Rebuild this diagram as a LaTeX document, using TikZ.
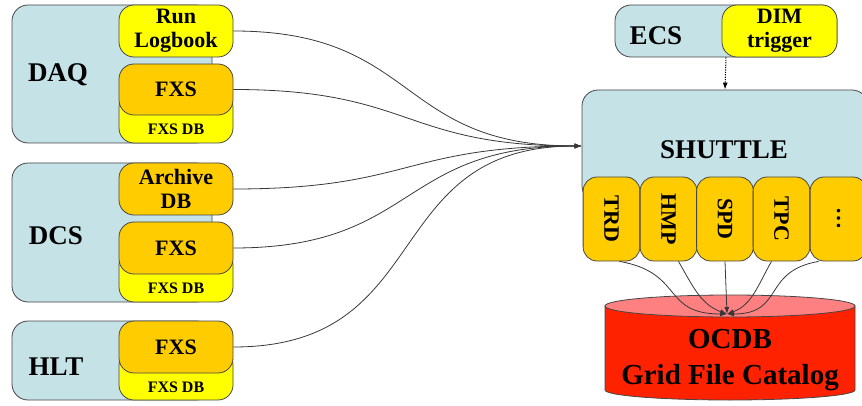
\documentclass[tikz,border=0pt]{standalone}
\usepackage{fontspec}
\setmainfont{Liberation Serif}
\usepackage{tikz}
\usetikzlibrary{arrows,arrows.meta}
\definecolor{sysblue}{RGB}{197,226,231}
\definecolor{dbyellow}{RGB}{255,255,0}
\definecolor{fxsorange}{RGB}{255,204,0}
\definecolor{ocdbred}{RGB}{255,34,0}
\definecolor{ocdbpink}{RGB}{255,128,128}
\definecolor{edgegray}{RGB}{70,70,70}
\newcommand{\bigfont}{\bfseries\fontsize{27}{30}\selectfont}
\newcommand{\midfont}{\bfseries\fontsize{22}{24}\selectfont}
\newcommand{\smallfont}{\bfseries\fontsize{16}{16}\selectfont}
\tikzset{
	sysnode/.style={rectangle, rounded corners=16pt, draw=edgegray, fill=sysblue, line width=0.8pt, inner sep=0pt},
	yellownode/.style={rectangle, rounded corners=15pt, draw=edgegray, fill=dbyellow, line width=0.8pt, inner sep=0pt, minimum width=114pt, align=center, font=\midfont},
	orangenode/.style={rectangle, rounded corners=15pt, draw=edgegray, fill=fxsorange, line width=0.8pt, inner sep=0pt, minimum width=114pt, align=center, font=\midfont},
	detnode/.style={rectangle, rounded corners=14pt, draw=edgegray, fill=fxsorange, line width=0.8pt, inner sep=0pt, minimum width=84pt, minimum height=56.75pt, rotate=-90, font=\midfont},
	feed/.style={draw=edgegray!80!black, line width=0.8pt, -{Latex[length=7pt,width=5pt]}}
}
\begin{document}
\begin{tikzpicture}[x=1pt, y=-1pt]
	\clip (0,0) rectangle (862,406);
	% DAQ
	\node[sysnode, minimum width=200pt, minimum height=138pt] (daq) at (112,74) {};
	\node[font=\bigfont] (daqlabel) at (58,75) {DAQ};
	\node[yellownode, minimum height=52pt] (runlog) at (176,31) {Run\\Logbook};
	\node[yellownode, minimum height=51pt] (daqdb) at (176,117.5) {};
	\node[font=\smallfont] (daqdblabel) at (176,129) {FXS DB};
	\node[orangenode, minimum height=51pt] (daqfxs) at (176,89.5) {FXS};
	% DCS
	\node[sysnode, minimum width=200pt, minimum height=139pt] (dcs) at (112,232.5) {};
	\node[font=\bigfont] (dcslabel) at (56,236) {DCS};
	\node[orangenode, minimum height=52pt] (archive) at (176,189) {Archive\\DB};
	\node[yellownode, minimum height=52pt] (dcsdb) at (176,276) {};
	\node[font=\smallfont] (dcsdblabel) at (176,288) {FXS DB};
	\node[orangenode, minimum height=52pt] (dcsfxs) at (176,248) {FXS};
	% HLT
	\node[sysnode, minimum width=200pt, minimum height=79pt] (hlt) at (112,360.5) {};
	\node[font=\bigfont] (hltlabel) at (56,367) {HLT};
	\node[yellownode, minimum height=50pt] (hltdb) at (176,375) {};
	\node[font=\smallfont] (hltdblabel) at (176,387) {FXS DB};
	\node[orangenode, minimum height=52pt] (hltfxs) at (176,347) {FXS};
	% ECS
	\node[sysnode, minimum width=222pt, minimum height=52pt] (ecs) at (726,31) {};
	\node[font=\bigfont] (ecslabel) at (656,36) {ECS};
	\node[yellownode, minimum width=115pt, minimum height=52pt] (dim) at (779.5,31) {DIM\\trigger};
	% SHUTTLE
	\node[sysnode, minimum width=286pt, minimum height=112pt] (shuttle) at (725,146) {};
	\node[font=\bigfont] (shuttlelabel) at (724,150) {SHUTTLE};
	\node[detnode] (trd) at (611.5,219) {TRD};
	\node[detnode] (hmp) at (668.5,219) {HMP};
	\node[detnode] (spd) at (725,219) {SPD};
	\node[detnode] (tpc) at (781.5,219) {TPC};
	\node[detnode] (more) at (838.5,219) {\dots};
	% OCDB
	\filldraw[draw=edgegray, fill=ocdbred, line width=0.8pt] (605,306) -- (605,390) arc[start angle=180, end angle=0, x radius=125, y radius=10] -- (855,306) -- cycle;
	\filldraw[draw=edgegray, fill=ocdbpink, line width=0.8pt] (730,306) ellipse [x radius=125, y radius=11];
	\node[font=\bfseries\fontsize{29}{36}\selectfont, align=center] (ocdb) at (730,360) {OCDB\\Grid File Catalog};
	\coordinate (ocdbin) at (727,314);
	% connectors
	\draw[feed] (runlog.east) to[out=0, in=180, looseness=1.3] (shuttle.west);
	\draw[feed] (daqfxs.east) to[out=0, in=180, looseness=1.3] (shuttle.west);
	\draw[feed] (archive.east) to[out=0, in=180, looseness=1.3] (shuttle.west);
	\draw[feed] (dcsfxs.east) to[out=0, in=180, looseness=1.3] (shuttle.west);
	\draw[feed] (hltfxs.east) to[out=0, in=180, looseness=1.3] (shuttle.west);
	\draw[feed, draw=black, line width=1pt, dash pattern=on 1.2pt off 1.2pt] (ecs.south) -- (shuttle.north);
	\draw[feed] ([xshift=8pt]trd.east) to[out=-10, in=180, looseness=1.4] (ocdbin);
	\draw[feed] ([xshift=10pt]hmp.east) to[out=-60, in=160] (ocdbin);
	\draw[feed] (spd.east) -- (ocdbin);
	\draw[feed] ([xshift=-10pt]tpc.east) to[out=-120, in=20] (ocdbin);
	\draw[feed] ([xshift=-20pt]more.east) to[out=-170, in=0, looseness=1.4] (ocdbin);
\end{tikzpicture}
\end{document}
